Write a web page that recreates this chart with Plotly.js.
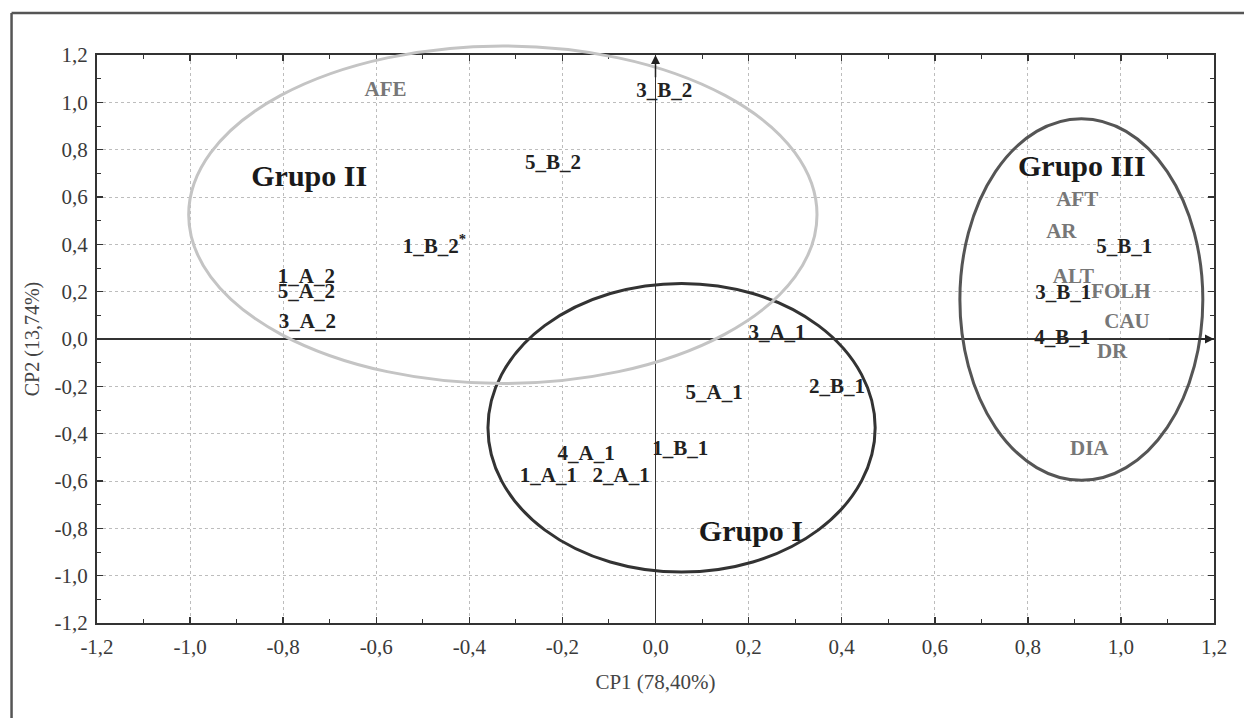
<!DOCTYPE html>
<html>
<head>
<meta charset="utf-8">
<script src="https://cdn.plot.ly/plotly-3.0.1.min.js"></script>
<style>
html,body{margin:0;padding:0;background:#fff;}
#chart{width:1244px;height:718px;}
</style>
</head>
<body>
<div id="chart"></div>
<script>
// Observations (black labels)
const obsLabels = ['3_B_2','5_B_2','1_B_2<sup>*</sup>','1_A_2','5_A_2','3_A_2','3_A_1','2_B_1','5_A_1','4_A_1','1_B_1','1_A_1','2_A_1','5_B_1','3_B_1','4_B_1'];
const obsX = [0.019,-0.22,-0.475,-0.75,-0.75,-0.748,0.261,0.39,0.126,-0.149,0.053,-0.23,-0.074,1.007,0.876,0.874];
const obsY = [1.044,0.74,0.386,0.26,0.196,0.07,0.023,-0.204,-0.23,-0.49,-0.47,-0.584,-0.584,0.386,0.192,0.002];

// Variables (gray labels)
const varLabels = ['AFE','AFT','AR','ALT','FOLH','CAU','DR','DIA'];
const varX = [-0.58,0.906,0.872,0.898,1.0,1.013,0.981,0.932];
const varY = [1.048,0.584,0.45,0.26,0.196,0.07,-0.06,-0.47];

// Groups
const groupLabels = ['Grupo I','Grupo II','Grupo III'];
const groupX = [0.205,-0.744,0.916];
const groupY = [-0.82,0.68,0.719];
const groupCx = [0.056,-0.328,0.915];
const groupCy = [-0.375,0.525,0.167];
const groupRx = [0.416,0.675,0.261];
const groupRy = [0.61,0.713,0.764];

// Axis ticks
const tickVals = [-1.2,-1.0,-0.8,-0.6,-0.4,-0.2,0,0.2,0.4,0.6,0.8,1.0,1.2];
const tickText = ['-1,2','-1,0','-0,8','-0,6','-0,4','-0,2','0,0','0,2','0,4','0,6','0,8','1,0','1,2'];

const xRange = [-1.2, 1.2];
const yRange = [-1.2, 1.2];
const px = v => (v - xRange[0]) / (xRange[1] - xRange[0]);
const py = v => (v - yRange[0]) / (yRange[1] - yRange[0]);

const ellColors = ['#333333','#c4c4c4','#555555'];
const shapes = groupCx.map((cx, i) => ({
  type: 'circle', xref: 'paper', yref: 'paper',
  x0: px(cx - groupRx[i]), x1: px(cx + groupRx[i]),
  y0: py(groupCy[i] - groupRy[i]), y1: py(groupCy[i] + groupRy[i]),
  line: {color: ellColors[i], width: 3}, layer: 'above'
}));
// outer frame
shapes.push({type:'line', xref:'paper', yref:'paper', x0:-0.0765, x1:-0.0765, y0:1.074, y1:-0.2, line:{color:'#555', width:2.5}});
shapes.push({type:'line', xref:'paper', yref:'paper', x0:-0.0765, x1:1.05, y0:1.074, y1:1.074, line:{color:'#555', width:2.5}});

const serif = 'Liberation Serif, Times New Roman, serif';

const traces = [
  {type:'scatter', mode:'text', x: varX, y: varY, text: varLabels, textposition:'middle center',
   textfont:{family: serif, size: 21, color:'#777777', weight: 'bold'}, cliponaxis:false, hoverinfo:'none'},
  {type:'scatter', mode:'text', x: obsX, y: obsY, text: obsLabels, textposition:'middle center',
   textfont:{family: serif, size: 21, color:'#222222', weight: 'bold'}, cliponaxis:false, hoverinfo:'none'},
  {type:'scatter', mode:'text', x: groupX, y: groupY, text: groupLabels, textposition:'middle center',
   textfont:{family: serif, size: 30, color:'#1a1a1a', weight: 'bold'}, cliponaxis:false, hoverinfo:'none'}
];

const axisCommon = {
  tickmode:'array', tickvals: tickVals, ticktext: tickText,
  ticks:'inside', ticklen:6, tickwidth:1.5, tickcolor:'#333',
  minor:{dtick:0.1, tick0:0, ticks:'inside', ticklen:4, tickwidth:1, tickcolor:'#333', showgrid:false},
  showline:true, linecolor:'#333', linewidth:2, mirror:'ticks',
  showgrid:true, gridcolor:'#bdbdbd', griddash:'dot', gridwidth:1,
  zeroline:true, zerolinecolor:'#333', zerolinewidth:1.5,
  tickfont:{family: serif, size:21, color:'#3a3a3a'},
  fixedrange:true
};

const layout = {
  width:1244, height:718,
  margin:{l:97, r:30, t:55, b:95},
  paper_bgcolor:'#fff', plot_bgcolor:'#fff',
  showlegend:false,
  xaxis: Object.assign({}, axisCommon, {range:xRange, ticklabelstandoff:4,
    title:{text:'CP1 (78,40%)', font:{family: serif, size:21, color:'#444'}, standoff:16}}),
  yaxis: Object.assign({}, axisCommon, {range:yRange, ticklabelstandoff:3,
    title:{text:'CP2 (13,74%)', font:{family: serif, size:20, color:'#444'}, standoff:10}}),
  shapes: shapes,
  annotations: [
    {x:0, y:1.2, ax:0, ay:1.1, xref:'x', yref:'y', axref:'x', ayref:'y', text:'', showarrow:true, arrowhead:2, arrowsize:1.2, arrowwidth:1.5, arrowcolor:'#222'},
    {x:1.2, y:0, ax:1.1, ay:0, xref:'x', yref:'y', axref:'x', ayref:'y', text:'', showarrow:true, arrowhead:2, arrowsize:1.2, arrowwidth:1.5, arrowcolor:'#222'}
  ]
};

Plotly.newPlot('chart', traces, layout, {displayModeBar:false, staticPlot:true});
</script>
</body>
</html>
